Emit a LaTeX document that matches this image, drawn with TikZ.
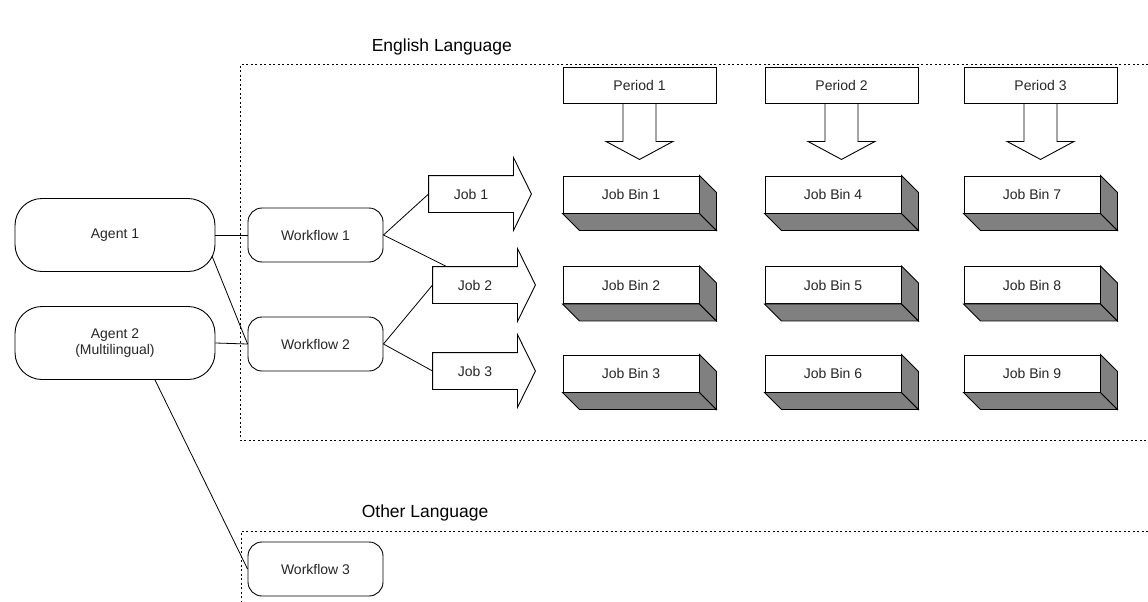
\documentclass[tikz,border=0pt]{standalone}
\usepackage{fontspec}
\setmainfont{Liberation Sans}
\usetikzlibrary{calc}
\begin{document}
\begin{tikzpicture}[x=1pt,y=-1pt,line width=0.9pt,
  lbl/.style={font=\fontsize{14}{16}\selectfont, text=black!85},
  agent/.style={lbl,draw,rectangle,rounded corners=27pt,minimum width=200pt,minimum height=73pt,inner sep=0pt,align=center},
  wflow/.style={lbl,draw,rectangle,rounded corners=14pt,minimum width=135pt,minimum height=54pt,inner sep=0pt},
  jobbody/.style={lbl,rectangle,minimum width=84pt,minimum height=36pt,inner sep=0pt},
  binbox/.style={lbl,draw,fill=white,rectangle,minimum width=136pt,minimum height=37pt,inner sep=0pt},
  perbox/.style={lbl,draw,fill=white,rectangle,minimum width=153pt,minimum height=36pt,inner sep=0pt},
  title/.style={font=\fontsize{17.5}{20}\selectfont,anchor=west},
  region/.style={line width=1pt,dash pattern=on 2pt off 2.5pt},
  shade/.style={draw,fill=black!50,line join=miter},
  link/.style={line width=0.8pt}]
\useasboundingbox (0,0) rectangle (1148,602);

% regions
\draw[region] (1148,65) -- (240,65) -- (240,440) -- (1148,440);
\draw[region] (1148,531) -- (241,531) -- (241,602);
\node[title] (eng) at (368,47) {English Language};
\node[title] (oth) at (358,513) {Other Language};

% agents and workflows
\node[agent] (a1) at (115,235) {Agent 1};
\node[agent] (a2) at (115,343) {Agent 2\\(Multilingual)};
\node[wflow] (wf1) at (315.5,235) {Workflow 1};
\node[wflow] (wf2) at (315.5,344) {Workflow 2};
\node[wflow] (wf3) at (315.5,569) {Workflow 3};

% job arrows
\node[jobbody] (job1) at (471,194) {Job 1};
\node[jobbody] (job2) at (475,285) {Job 2};
\node[jobbody] (job3) at (475,371) {Job 3};
\foreach \j in {job1,job2,job3}{
  \draw[line join=miter] (\j.north west) -- (\j.north east) -- ++(0,-18) -- ($(\j.east)+(18,0)$)
    -- ($(\j.south east)+(0,18)$) -- (\j.south east) -- (\j.south west) -- cycle;
}

% job bins
\foreach \n/\x/\y in {1/631/194.5,2/631/285,3/631/373.5,4/833/194.5,5/833/285,6/833/373.5,7/1032/194.5,8/1032/285,9/1032/373.5}{
  \node[binbox] (bin\n) at (\x,\y) {Job Bin \n};
  \draw[shade] (bin\n.south west) -- (bin\n.south east) -- ++(17,17) -- ($(bin\n.south west)+(17,17)$) -- cycle;
  \draw[shade] (bin\n.north east) -- ++(17,17) -- ($(bin\n.south east)+(17,17)$) -- (bin\n.south east) -- cycle;
}

% periods
\foreach \n/\x in {1/639.5,2/841.5,3/1040.5}{
  \node[perbox] (per\n) at (\x,85) {Period \n};
  \draw[line join=miter] ($(per\n.south)+(-16.5,0)$) -- ++(0,38) -- ++(-17,0) -- ($(per\n.south)+(0,56)$)
    -- ($(per\n.south)+(33.5,38)$) -- ++(-17,0) -- ($(per\n.south)+(16.5,0)$);
}

% connectors
\draw[link] (a1.east) -- (wf1.west);
\draw[link] ($(a1.center)+(97,21)$) -- (wf2.west);
\draw[link] (a2.east) -- (wf2.west);
\draw[link] ($(a2.south)+(40,0)$) -- (wf3.west);
\draw[link] (wf1.east) -- (job1.west);
\draw[link] (wf1.east) -- ($(job2.north west)+(14,0)$);
\draw[link] (wf2.east) -- (job2.west);
\draw[link] (wf2.east) -- (job3.west);
\end{tikzpicture}
\end{document}
